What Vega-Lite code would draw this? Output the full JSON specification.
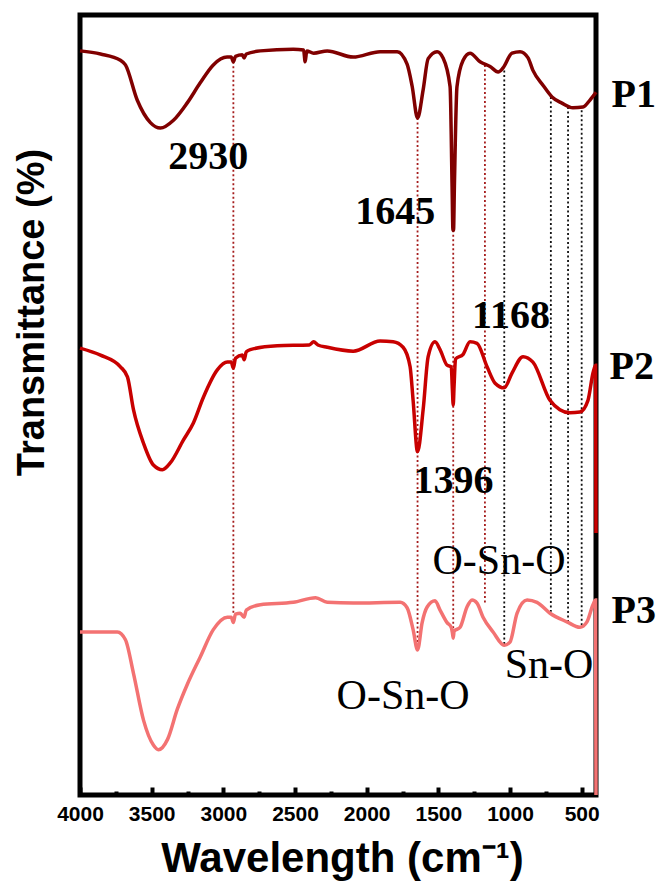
{
  "$schema": "https://vega.github.io/schema/vega-lite/v6.json",
  "width": 516,
  "height": 780,
  "autosize": {"type": "none"},
  "padding": {"left": 80, "top": 15, "right": 65, "bottom": 88},
  "background": "white",
  "config": {"view": {"stroke": "black", "strokeWidth": 5}, "axis": {"grid": false}},
  "datasets": {
    "spectra": [
      {"s":"P1","wn":4000,"t":95.4},{"s":"P1","wn":3857,"t":95.0},{"s":"P1","wn":3718,"t":94.2},{"s":"P1","wn":3683,"t":93.6},
      {"s":"P1","wn":3601,"t":89.1},{"s":"P1","wn":3509,"t":86.2},{"s":"P1","wn":3439,"t":85.5},{"s":"P1","wn":3348,"t":86.5},
      {"s":"P1","wn":3253,"t":88.7},{"s":"P1","wn":3161,"t":91.3},{"s":"P1","wn":3070,"t":93.6},{"s":"P1","wn":2974,"t":94.6},
      {"s":"P1","wn":2945,"t":94.6},{"s":"P1","wn":2930,"t":94.0},{"s":"P1","wn":2915,"t":94.7},{"s":"P1","wn":2868,"t":94.9},
      {"s":"P1","wn":2855,"t":94.5},{"s":"P1","wn":2840,"t":95.0},{"s":"P1","wn":2742,"t":95.4},{"s":"P1","wn":2512,"t":95.6},
      {"s":"P1","wn":2440,"t":95.5},{"s":"P1","wn":2429,"t":94.0},{"s":"P1","wn":2418,"t":95.4},{"s":"P1","wn":2370,"t":95.1},
      {"s":"P1","wn":2275,"t":95.4},{"s":"P1","wn":2094,"t":94.6},{"s":"P1","wn":1906,"t":95.3},{"s":"P1","wn":1787,"t":95.3},
      {"s":"P1","wn":1718,"t":93.7},{"s":"P1","wn":1683,"t":90.9},{"s":"P1","wn":1645,"t":86.8},{"s":"P1","wn":1606,"t":90.4},
      {"s":"P1","wn":1571,"t":94.4},{"s":"P1","wn":1509,"t":95.3},{"s":"P1","wn":1467,"t":94.5},{"s":"P1","wn":1418,"t":90.8},
      {"s":"P1","wn":1404,"t":78.0},{"s":"P1","wn":1398,"t":72.4},{"s":"P1","wn":1394,"t":72.4},{"s":"P1","wn":1388,"t":78.0},
      {"s":"P1","wn":1370,"t":90.8},
      {"s":"P1","wn":1327,"t":94.2},{"s":"P1","wn":1279,"t":95.1},{"s":"P1","wn":1209,"t":94.0},{"s":"P1","wn":1139,"t":93.4},
      {"s":"P1","wn":1083,"t":92.7},{"s":"P1","wn":1049,"t":93.2},{"s":"P1","wn":986,"t":95.1},{"s":"P1","wn":930,"t":95.3},
      {"s":"P1","wn":874,"t":94.5},{"s":"P1","wn":840,"t":92.9},{"s":"P1","wn":770,"t":91.0},{"s":"P1","wn":707,"t":89.5},
      {"s":"P1","wn":638,"t":88.7},{"s":"P1","wn":561,"t":88.1},{"s":"P1","wn":491,"t":88.2},{"s":"P1","wn":442,"t":89.1},
      {"s":"P1","wn":400,"t":90.1},

      {"s":"P2","wn":4000,"t":57.3},{"s":"P2","wn":3857,"t":56.4},{"s":"P2","wn":3718,"t":54.9},{"s":"P2","wn":3669,"t":53.6},
      {"s":"P2","wn":3627,"t":49.4},{"s":"P2","wn":3557,"t":45.1},{"s":"P2","wn":3488,"t":42.3},{"s":"P2","wn":3425,"t":41.7},
      {"s":"P2","wn":3369,"t":42.6},{"s":"P2","wn":3279,"t":45.5},{"s":"P2","wn":3209,"t":47.7},{"s":"P2","wn":3139,"t":51.0},
      {"s":"P2","wn":3042,"t":54.5},{"s":"P2","wn":2972,"t":55.5},{"s":"P2","wn":2945,"t":55.5},{"s":"P2","wn":2930,"t":54.7},
      {"s":"P2","wn":2915,"t":56.0},{"s":"P2","wn":2868,"t":56.4},{"s":"P2","wn":2855,"t":55.8},{"s":"P2","wn":2840,"t":56.8},
      {"s":"P2","wn":2812,"t":57.1},{"s":"P2","wn":2624,"t":57.6},{"s":"P2","wn":2400,"t":57.7},{"s":"P2","wn":2370,"t":58.1},
      {"s":"P2","wn":2340,"t":57.7},{"s":"P2","wn":2275,"t":57.4},{"s":"P2","wn":2094,"t":56.9},{"s":"P2","wn":1906,"t":58.2},
      {"s":"P2","wn":1815,"t":58.1},{"s":"P2","wn":1746,"t":57.4},{"s":"P2","wn":1697,"t":54.9},{"s":"P2","wn":1676,"t":50.6},
      {"s":"P2","wn":1645,"t":44.0},{"s":"P2","wn":1606,"t":49.4},{"s":"P2","wn":1571,"t":56.2},{"s":"P2","wn":1523,"t":58.1},
      {"s":"P2","wn":1488,"t":57.1},{"s":"P2","wn":1439,"t":55.1},{"s":"P2","wn":1410,"t":54.9},{"s":"P2","wn":1402,"t":52.0},
      {"s":"P2","wn":1396,"t":50.0},{"s":"P2","wn":1390,"t":52.5},{"s":"P2","wn":1380,"t":55.9},{"s":"P2","wn":1327,"t":56.5},
      {"s":"P2","wn":1279,"t":58.1},{"s":"P2","wn":1230,"t":57.9},{"s":"P2","wn":1160,"t":54.9},{"s":"P2","wn":1104,"t":52.8},
      {"s":"P2","wn":1040,"t":52.2},{"s":"P2","wn":986,"t":54.1},{"s":"P2","wn":909,"t":56.2},{"s":"P2","wn":840,"t":55.5},
      {"s":"P2","wn":721,"t":50.6},{"s":"P2","wn":652,"t":49.4},{"s":"P2","wn":582,"t":49.0},{"s":"P2","wn":512,"t":49.1},
      {"s":"P2","wn":456,"t":50.6},{"s":"P2","wn":421,"t":54.1},{"s":"P2","wn":403,"t":55.1},{"s":"P2","wn":400,"t":33.6},

      {"s":"P3","wn":4000,"t":20.9},{"s":"P3","wn":3739,"t":20.9},{"s":"P3","wn":3683,"t":19.9},{"s":"P3","wn":3627,"t":15.6},
      {"s":"P3","wn":3557,"t":9.6},{"s":"P3","wn":3488,"t":6.4},{"s":"P3","wn":3453,"t":5.8},{"s":"P3","wn":3390,"t":7.1},
      {"s":"P3","wn":3321,"t":11.0},{"s":"P3","wn":3251,"t":14.2},{"s":"P3","wn":3161,"t":17.7},{"s":"P3","wn":3070,"t":21.2},
      {"s":"P3","wn":2972,"t":22.8},{"s":"P3","wn":2945,"t":22.8},{"s":"P3","wn":2930,"t":22.1},{"s":"P3","wn":2915,"t":23.2},
      {"s":"P3","wn":2882,"t":23.3},{"s":"P3","wn":2855,"t":22.8},{"s":"P3","wn":2840,"t":23.7},{"s":"P3","wn":2742,"t":24.4},
      {"s":"P3","wn":2512,"t":24.7},{"s":"P3","wn":2356,"t":25.3},{"s":"P3","wn":2275,"t":24.7},{"s":"P3","wn":2094,"t":24.6},
      {"s":"P3","wn":1766,"t":24.7},{"s":"P3","wn":1718,"t":24.0},{"s":"P3","wn":1676,"t":21.2},{"s":"P3","wn":1645,"t":18.6},
      {"s":"P3","wn":1613,"t":22.1},{"s":"P3","wn":1578,"t":24.1},{"s":"P3","wn":1523,"t":24.9},{"s":"P3","wn":1488,"t":23.7},
      {"s":"P3","wn":1439,"t":22.1},{"s":"P3","wn":1410,"t":21.5},{"s":"P3","wn":1402,"t":20.8},{"s":"P3","wn":1396,"t":20.1},
      {"s":"P3","wn":1390,"t":21.0},{"s":"P3","wn":1348,"t":21.5},{"s":"P3","wn":1300,"t":24.1},{"s":"P3","wn":1265,"t":25.0},
      {"s":"P3","wn":1230,"t":24.6},{"s":"P3","wn":1188,"t":22.8},{"s":"P3","wn":1118,"t":20.9},{"s":"P3","wn":1040,"t":19.2},
      {"s":"P3","wn":1000,"t":19.6},{"s":"P3","wn":951,"t":23.3},{"s":"P3","wn":881,"t":25.0},{"s":"P3","wn":812,"t":24.7},
      {"s":"P3","wn":721,"t":23.3},{"s":"P3","wn":603,"t":22.2},{"s":"P3","wn":512,"t":21.5},{"s":"P3","wn":463,"t":22.2},
      {"s":"P3","wn":421,"t":24.4},{"s":"P3","wn":403,"t":25.0},{"s":"P3","wn":400,"t":0}
    ],
    "redLines": [
      {"wn":2930,"t":94.0,"t2":23.1},{"wn":1645,"t":86.8,"t2":19.5},{"wn":1396,"t":72.4,"t2":20.1},{"wn":1175,"t":93.6,"t2":24.4}
    ],
    "blackLines": [
      {"wn":1040,"t":92.9,"t2":19.0},{"wn":715,"t":89.5,"t2":23.5},{"wn":595,"t":88.2,"t2":22.1},{"wn":500,"t":87.8,"t2":21.4}
    ],
    "boldLabels": [
      {"label":"2930","wn":3105,"t":81.8},{"label":"1645","wn":1801,"t":74.7},{"label":"1396","wn":1394,"t":40.3},
      {"label":"1168","wn":993,"t":61.4},{"label":"P1","wn":136,"t":89.7},{"label":"P2","wn":150,"t":54.9},{"label":"P3","wn":136,"t":23.6}
    ],
    "plainLabels": [
      {"label":"O-Sn-O","wn":1077,"t":30.0},{"label":"O-Sn-O","wn":1746,"t":12.7},{"label":"Sn-O","wn":728,"t":16.7}
    ]
  },
  "resolve": {"axis": {"x": "independent"}},
  "encoding": {
    "x": {
      "field": "wn", "type": "quantitative",
      "scale": {"domain": [400, 4000], "reverse": true, "nice": false, "zero": false},
      "axis": null
    },
    "y": {
      "field": "t", "type": "quantitative",
      "scale": {"domain": [0, 100], "nice": false, "zero": false},
      "axis": {
        "title": "Transmittance (%)",
        "titleFont": "Liberation Sans", "titleFontWeight": "bold", "titleFontSize": 38, "titleColor": "black",
        "titleAngle": 270, "titleX": -48, "titleY": 297, "titleAlign": "center", "titleBaseline": "middle",
        "labels": false, "ticks": false, "domain": false, "grid": false
      }
    }
  },
  "layer": [
    {
      "data": {"name": "redLines"},
      "mark": {"type": "rule", "color": "#A51C1C", "strokeWidth": 1.8, "strokeDash": [2, 2.5]},
      "encoding": {
        "x": {
          "field": "wn", "type": "quantitative",
          "scale": {"domain": [400, 4000], "reverse": true, "nice": false, "zero": false},
          "axis": {
            "orient": "bottom",
            "values": [4000,3500,3000,2500,2000,1500,1000,500],
            "format": "d",
            "labelOverlap": false, "labelFlush": false,
            "labelFont": "Liberation Sans", "labelFontWeight": "bold", "labelFontSize": 21, "labelColor": "black",
            "labelPadding": 16,
            "tickColor": "black", "tickWidth": 4, "tickSize": -8,
            "domain": false, "grid": false,
            "title": "Wavelength (cm⁻¹)",
            "titleFont": "Liberation Sans", "titleFontWeight": "bold", "titleFontSize": 42, "titleColor": "black",
            "titleX": 262, "titleY": 63, "titleAlign": "center", "titleBaseline": "middle"
          }
        },
        "y2": {"field": "t2"}
      }
    },
    {
      "data": {"name": "blackLines"},
      "mark": {"type": "rule", "color": "#111111", "strokeWidth": 1.8, "strokeDash": [2, 2.5]},
      "encoding": {
        "x": {
          "field": "wn", "type": "quantitative",
          "scale": {"domain": [400, 4000], "reverse": true, "nice": false, "zero": false},
          "axis": {
            "orient": "bottom",
            "values": [3750,3250,2750,2250,1750,1250,750],
            "labels": false, "title": null,
            "tickColor": "black", "tickWidth": 4, "tickSize": -4,
            "domain": false, "grid": false
          }
        },
        "y2": {"field": "t2"}
      }
    },
    {
      "data": {"name": "spectra"},
      "mark": {"type": "line", "strokeWidth": 3.5, "interpolate": "monotone"},
      "encoding": {
        "color": {"field": "s", "type": "nominal", "scale": {"domain": ["P1","P2","P3"], "range": ["#800000","#C80000","#F37272"]}, "legend": null},
        "order": {"field": "wn", "sort": "descending"}
      }
    },
    {
      "data": {"name": "boldLabels"},
      "mark": {"type": "text", "font": "Liberation Serif", "fontWeight": "bold", "fontSize": 40, "align": "center", "baseline": "middle", "color": "black", "clip": false},
      "encoding": {"text": {"field": "label"}}
    },
    {
      "data": {"name": "plainLabels"},
      "mark": {"type": "text", "font": "Liberation Serif", "fontSize": 42, "align": "center", "baseline": "middle", "color": "black", "clip": false},
      "encoding": {"text": {"field": "label"}}
    }
  ]
}
